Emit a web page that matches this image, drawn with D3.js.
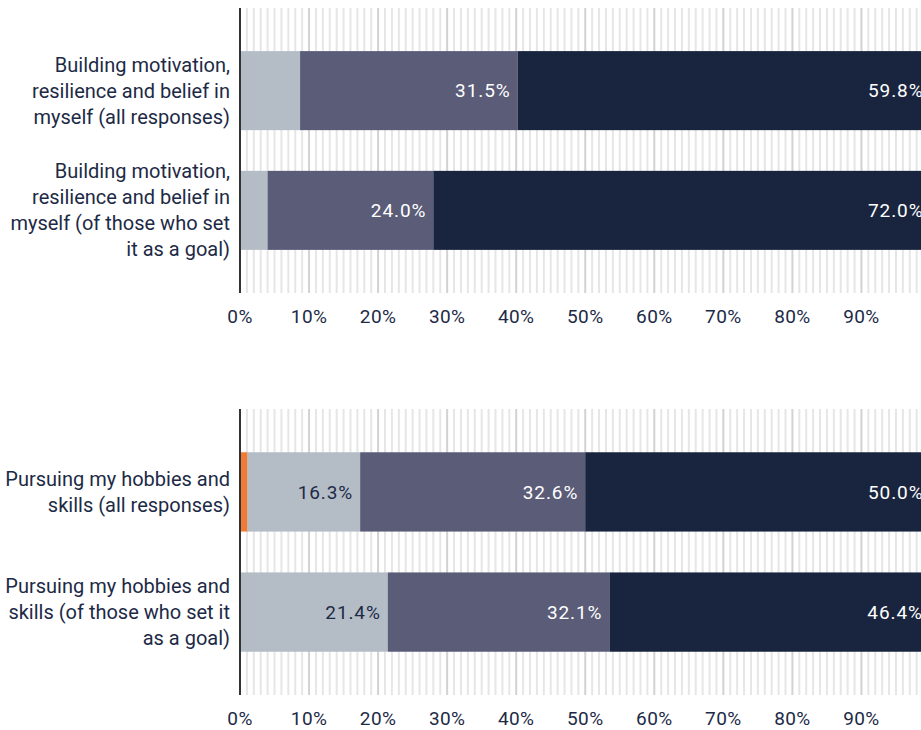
<!DOCTYPE html>
<html lang="en">
<head>
<meta charset="utf-8">
<script src="https://d3js.org/d3.v7.min.js"></script>
<style>
body { margin: 0; background: #fff; }
svg { display: block; font-family: Roboto, "Noto Sans", sans-serif; }
</style>
</head>
<body>
<svg width="921" height="730"></svg>
<script>
// data
var topLabels = [
  ["Building motivation,", "resilience and belief in", "myself (all responses)"],
  ["Building motivation,", "resilience and belief in", "myself (of those who set", "it as a goal)"]
];
var bottomLabels = [
  ["Pursuing my hobbies and", "skills (all responses)"],
  ["Pursuing my hobbies and", "skills (of those who set it", "as a goal)"]
];
var segmentKeys = ["orange", "light", "mid", "dark"];
var topValues = [
  [0, 8.7, 31.5, 59.8],
  [0, 4.0, 24.0, 72.0]
];
var bottomValues = [
  [1.1, 16.3, 32.6, 50.0],
  [0, 21.4, 32.1, 46.4]
];
var tickValues = [0, 10, 20, 30, 40, 50, 60, 70, 80, 90];

var colors = { orange: "#f07b37", light: "#b4bcc6", mid: "#5b5c78", dark: "#19253f" };
var textColors = { orange: "#fff", light: "#1d2a46", mid: "#fff", dark: "#fff" };
var navy = "#1d2a46";

var svg = d3.select("svg");
var x = d3.scaleLinear().domain([0, 100]).range([240, 930.5]);

function panel(top, bottom, labels, values, tickY) {
  var g = svg.append("g");
  var y = d3.scaleBand().domain(d3.range(values.length))
    .range([top, bottom]).paddingInner(0.34).paddingOuter(0.36);

  // grid
  g.selectAll("line.grid").data(d3.range(0, 101)).enter().append("line")
    .attr("x1", function(d) { return x(d); })
    .attr("x2", function(d) { return x(d); })
    .attr("y1", top).attr("y2", bottom)
    .attr("stroke", function(d) { return d % 10 === 0 ? "#d2d2d2" : "#e6e6e6"; })
    .attr("stroke-width", 2);

  // bars
  var rows = g.selectAll("g.row").data(values).enter().append("g")
    .attr("transform", function(d, i) { return "translate(0," + y(i) + ")"; });

  rows.each(function(vals) {
    var acc = 0;
    var segs = vals.map(function(v, k) {
      var s = { key: segmentKeys[k], x0: acc, x1: acc + v, v: v };
      acc += v;
      return s;
    }).filter(function(s) { return s.v > 0; });
    var r = d3.select(this);
    r.selectAll("rect").data(segs).enter().append("rect")
      .attr("x", function(s) { return x(s.x0); })
      .attr("width", function(s) { return x(s.x1) - x(s.x0); })
      .attr("y", 0).attr("height", y.bandwidth())
      .attr("fill", function(s) { return colors[s.key]; });
    r.selectAll("text").data(segs.filter(function(s) { return s.v >= 10; })).enter().append("text")
      .attr("x", function(s) { return x(s.x1) - 7; })
      .attr("y", y.bandwidth() / 2)
      .attr("dy", "0.35em")
      .attr("text-anchor", "end")
      .attr("font-size", 19)
      .attr("letter-spacing", 0.9)
      .attr("fill", function(s) { return textColors[s.key]; })
      .text(function(s) { return s.v.toFixed(1) + "%"; });
  });

  // axis line
  g.append("line").attr("x1", x(0)).attr("x2", x(0))
    .attr("y1", top).attr("y2", bottom)
    .attr("stroke", "#333").attr("stroke-width", 2);

  // category labels
  labels.forEach(function(lines, i) {
    var cy = y(i) + y.bandwidth() / 2;
    var lh = 26;
    var t = g.append("text").attr("text-anchor", "end")
      .attr("font-size", 20).attr("fill", navy);
    lines.forEach(function(line, j) {
      t.append("tspan").attr("x", 230)
        .attr("y", cy + (j - (lines.length - 1) / 2) * lh)
        .attr("dy", "0.35em").text(line);
    });
  });

  // tick labels
  g.selectAll("text.tick").data(tickValues).enter().append("text")
    .attr("x", function(d) { return x(d); })
    .attr("y", tickY).attr("dy", "0.35em")
    .attr("text-anchor", "middle").attr("font-size", 19)
    .attr("letter-spacing", 0.4)
    .attr("fill", navy)
    .text(function(d) { return d + "%"; });
}

panel(8, 293, topLabels, topValues, 316);
panel(409, 695, bottomLabels, bottomValues, 718);
</script>
</body>
</html>
